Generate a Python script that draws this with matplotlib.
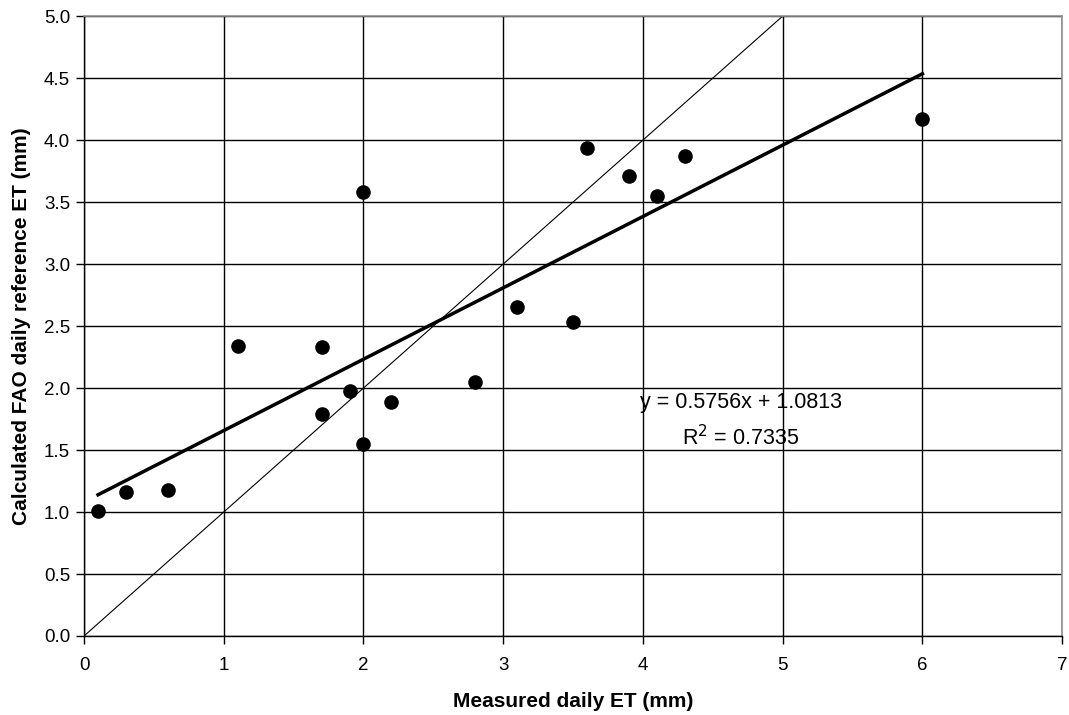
import matplotlib.pyplot as plt
import numpy as np

plt.rcParams['font.family'] = ['Liberation Sans', 'DejaVu Sans']

# measured vs calculated daily ET (mm)
measured = [0.1, 0.3, 0.6, 1.1, 1.7, 1.7, 1.9, 2.0, 2.0, 2.2, 2.8, 3.1, 3.5, 3.6, 3.9, 4.1, 4.3, 6.0]
calculated = [1.01, 1.16, 1.18, 2.34, 2.33, 1.79, 1.98, 3.58, 1.55, 1.89, 2.05, 2.65, 2.53, 3.94, 3.71, 3.55, 3.87, 4.17]

slope = 0.5756
intercept = 1.0813
r2 = 0.7335

xticks = list(range(0, 8))
yticks = [0.0, 0.5, 1.0, 1.5, 2.0, 2.5, 3.0, 3.5, 4.0, 4.5, 5.0]

fig = plt.figure(figsize=(10.69, 7.15), dpi=100)
ax = fig.add_axes([0.0786, 0.1105, 0.915, 0.867])

ax.set_xlim(0, 7)
ax.set_ylim(0, 5)
ax.set_xticks(xticks)
ax.set_yticks(yticks)
ax.set_yticklabels(['%.1f' % v for v in yticks])
ax.grid(True, color='black', linewidth=1.0)
ax.set_axisbelow(True)

# 1:1 line
ax.plot([0, 7], [0, 7], color='black', linewidth=0.8, zorder=2)

# linear trend over the measured range
xs = np.array([min(measured), max(measured)])
ax.plot(xs, slope * xs + intercept, color='black', linewidth=2.5, zorder=3)

ax.scatter(measured, calculated, s=90, color='black', zorder=4)

ax.text(4.7, 1.88, 'y = %.4fx + %.4f' % (slope, intercept), ha='center', va='center', fontsize=15.5)
ax.text(4.7, 1.60, 'R$^2$ = %.4f' % r2, ha='center', va='center', fontsize=15.5)

for side in ['top', 'right']:
    ax.spines[side].set_color('#909090')
    ax.spines[side].set_linewidth(1.2)
for side in ['left', 'bottom']:
    ax.spines[side].set_color('black')
    ax.spines[side].set_linewidth(1.0)

ax.tick_params(direction='out', length=6, width=1, labelsize=13.5, colors='black')
ax.tick_params(axis='x', pad=9)
ax.tick_params(axis='y', pad=4)

ax.set_xlabel('Measured daily ET (mm)', fontsize=15, fontweight='bold', labelpad=13)
ax.set_ylabel('Calculated FAO daily reference ET (mm)', fontsize=15, fontweight='bold', labelpad=9)

fig.savefig('out.png', dpi=100)
